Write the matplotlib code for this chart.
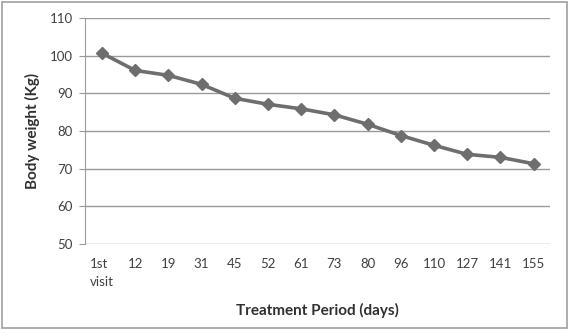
import matplotlib
matplotlib.use("Agg")
import matplotlib.pyplot as plt
from matplotlib.patches import Rectangle

categories = ["1st\nvisit", "12", "19", "31", "45", "52", "61", "73", "80", "96", "110", "127", "141", "155"]
weights = [100.7, 96.1, 94.8, 92.4, 88.7, 87.1, 85.9, 84.3, 81.8, 78.8, 76.2, 73.8, 73.0, 71.3]
yticks = [50, 60, 70, 80, 90, 100, 110]

plt.rcParams['font.family'] = ['Lato', 'DejaVu Sans']

fig = plt.figure(figsize=(5.69, 3.30), dpi=100)
ax = fig.add_axes([0.150, 0.261, 0.817, 0.684])

x = list(range(len(categories)))
ax.plot(x, weights, color='#6e6e6e', lw=2.6, marker='D', markersize=6,
        markerfacecolor='#6e6e6e', markeredgecolor='#6e6e6e', zorder=3)

ax.set_xlim(-0.5, len(categories) - 0.5)
ax.set_ylim(50, 110)
ax.set_yticks(yticks)
ax.set_xticks(x)
ax.set_xticklabels(categories, ha='center', va='top', multialignment='left', linespacing=1.6)
ax.grid(axis='y', color='#9a9a9a', lw=1.0)
ax.set_axisbelow(True)
for s in ['top', 'right', 'bottom']:
    ax.spines[s].set_visible(False)
ax.spines['left'].set_color('#9a9a9a')
ax.tick_params(axis='y', length=4, color='#9a9a9a', labelsize=9.5, labelcolor='#404040', pad=5)
ax.tick_params(axis='x', length=0, labelsize=9.5, labelcolor='#404040', pad=10)
ax.set_ylabel('Body weight (Kg)', fontsize=11, fontweight='bold', color='#303030', labelpad=7)
ax.set_xlabel('Treatment Period (days)', fontsize=11, fontweight='bold', color='#303030', labelpad=11)

fig.patches.append(Rectangle((0.003, 0.006), 0.994, 0.988, transform=fig.transFigure,
                             fill=False, edgecolor='#a0a0a0', lw=1.2))

fig.savefig('out.png', dpi=100)
